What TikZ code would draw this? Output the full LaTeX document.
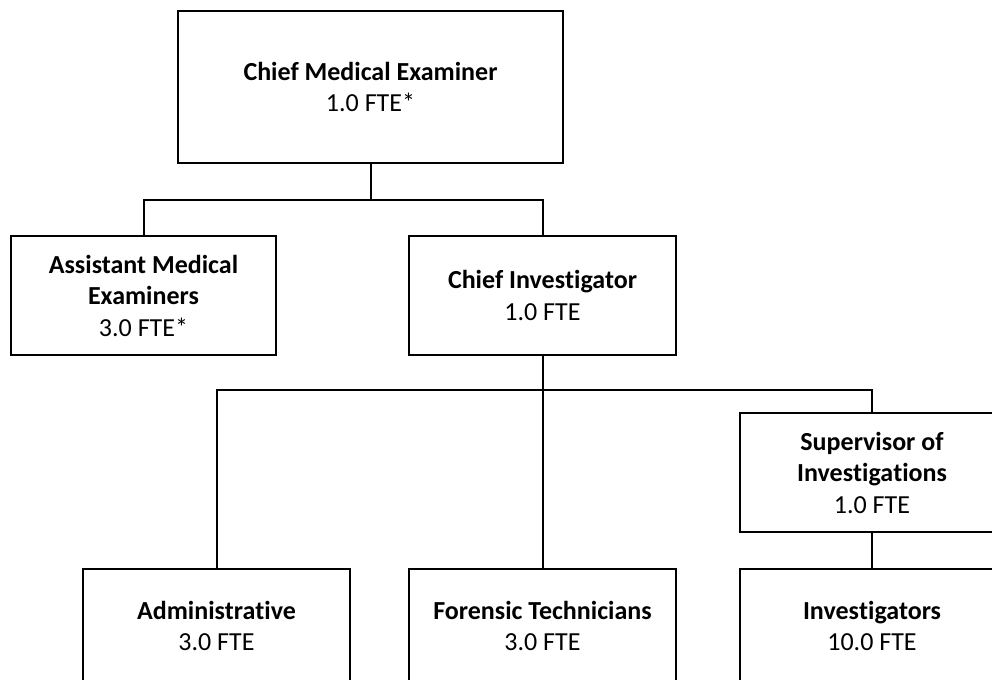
\documentclass[tikz,border=0pt]{standalone}
\usepackage{fontspec}
\setmainfont{Carlito}[Ligatures={NoCommon,NoRare,NoContextual},RawFeature={-liga;-dlig;-clig}]
\begin{document}
\begin{tikzpicture}[x=1bp,y=-1bp,line width=2bp,
  box/.style={draw=black,line width=2bp,inner sep=0pt,align=center,
    font=\fontsize{26bp}{31.5bp}\selectfont},
  conn/.style={draw=black,line width=2bp}]
\useasboundingbox (0,0) rectangle (992,680);
\clip (0,0) rectangle (992,680);
\fill[white] (0,0) rectangle (992,680);
\node[box,minimum width=385bp,minimum height=152bp] (cme) at (370.5,87)
  {\textbf{Chief Medical Examiner}\\1.0 FTE*};
\node[box,minimum width=265bp,minimum height=119bp] (ame) at (143.5,295.5)
  {\textbf{Assistant Medical}\\\textbf{Examiners}\\3.0 FTE*};
\node[box,minimum width=267bp,minimum height=119bp] (ci) at (542.5,295.5)
  {\textbf{Chief Inves\kern0pt tigator}\\1.0 FTE};
\node[box,minimum width=264bp,minimum height=119bp] (sup) at (872,472.5)
  {\textbf{Supervisor of}\\\textbf{Inves\kern0pt tiga\kern0pt tions}\\1.0 FTE};
\node[box,minimum width=267bp,minimum height=114bp] (adm) at (216.5,626)
  {\textbf{Administra\kern0pt tive}\\3.0 FTE};
\node[box,minimum width=267bp,minimum height=114bp] (for) at (542.5,626)
  {\textbf{Forensic Technicians}\\3.0 FTE};
\node[box,minimum width=264bp,minimum height=114bp] (inv) at (872,626)
  {\textbf{Inves\kern0pt tigators}\\10.0 FTE};
\coordinate (j1) at (370.5,200);
\coordinate (j2) at (542.5,390);
\draw[conn] (cme.south) -- (j1);
\draw[conn] (ame.north) |- (j1) -| (ci.north);
\draw[conn] (ci.south) -- (j2);
\draw[conn] (adm.north) |- (j2) -| (sup.north);
\draw[conn] (j2) -- (for.north);
\draw[conn] (sup.south) -- (inv.north);
\end{tikzpicture}
\end{document}
